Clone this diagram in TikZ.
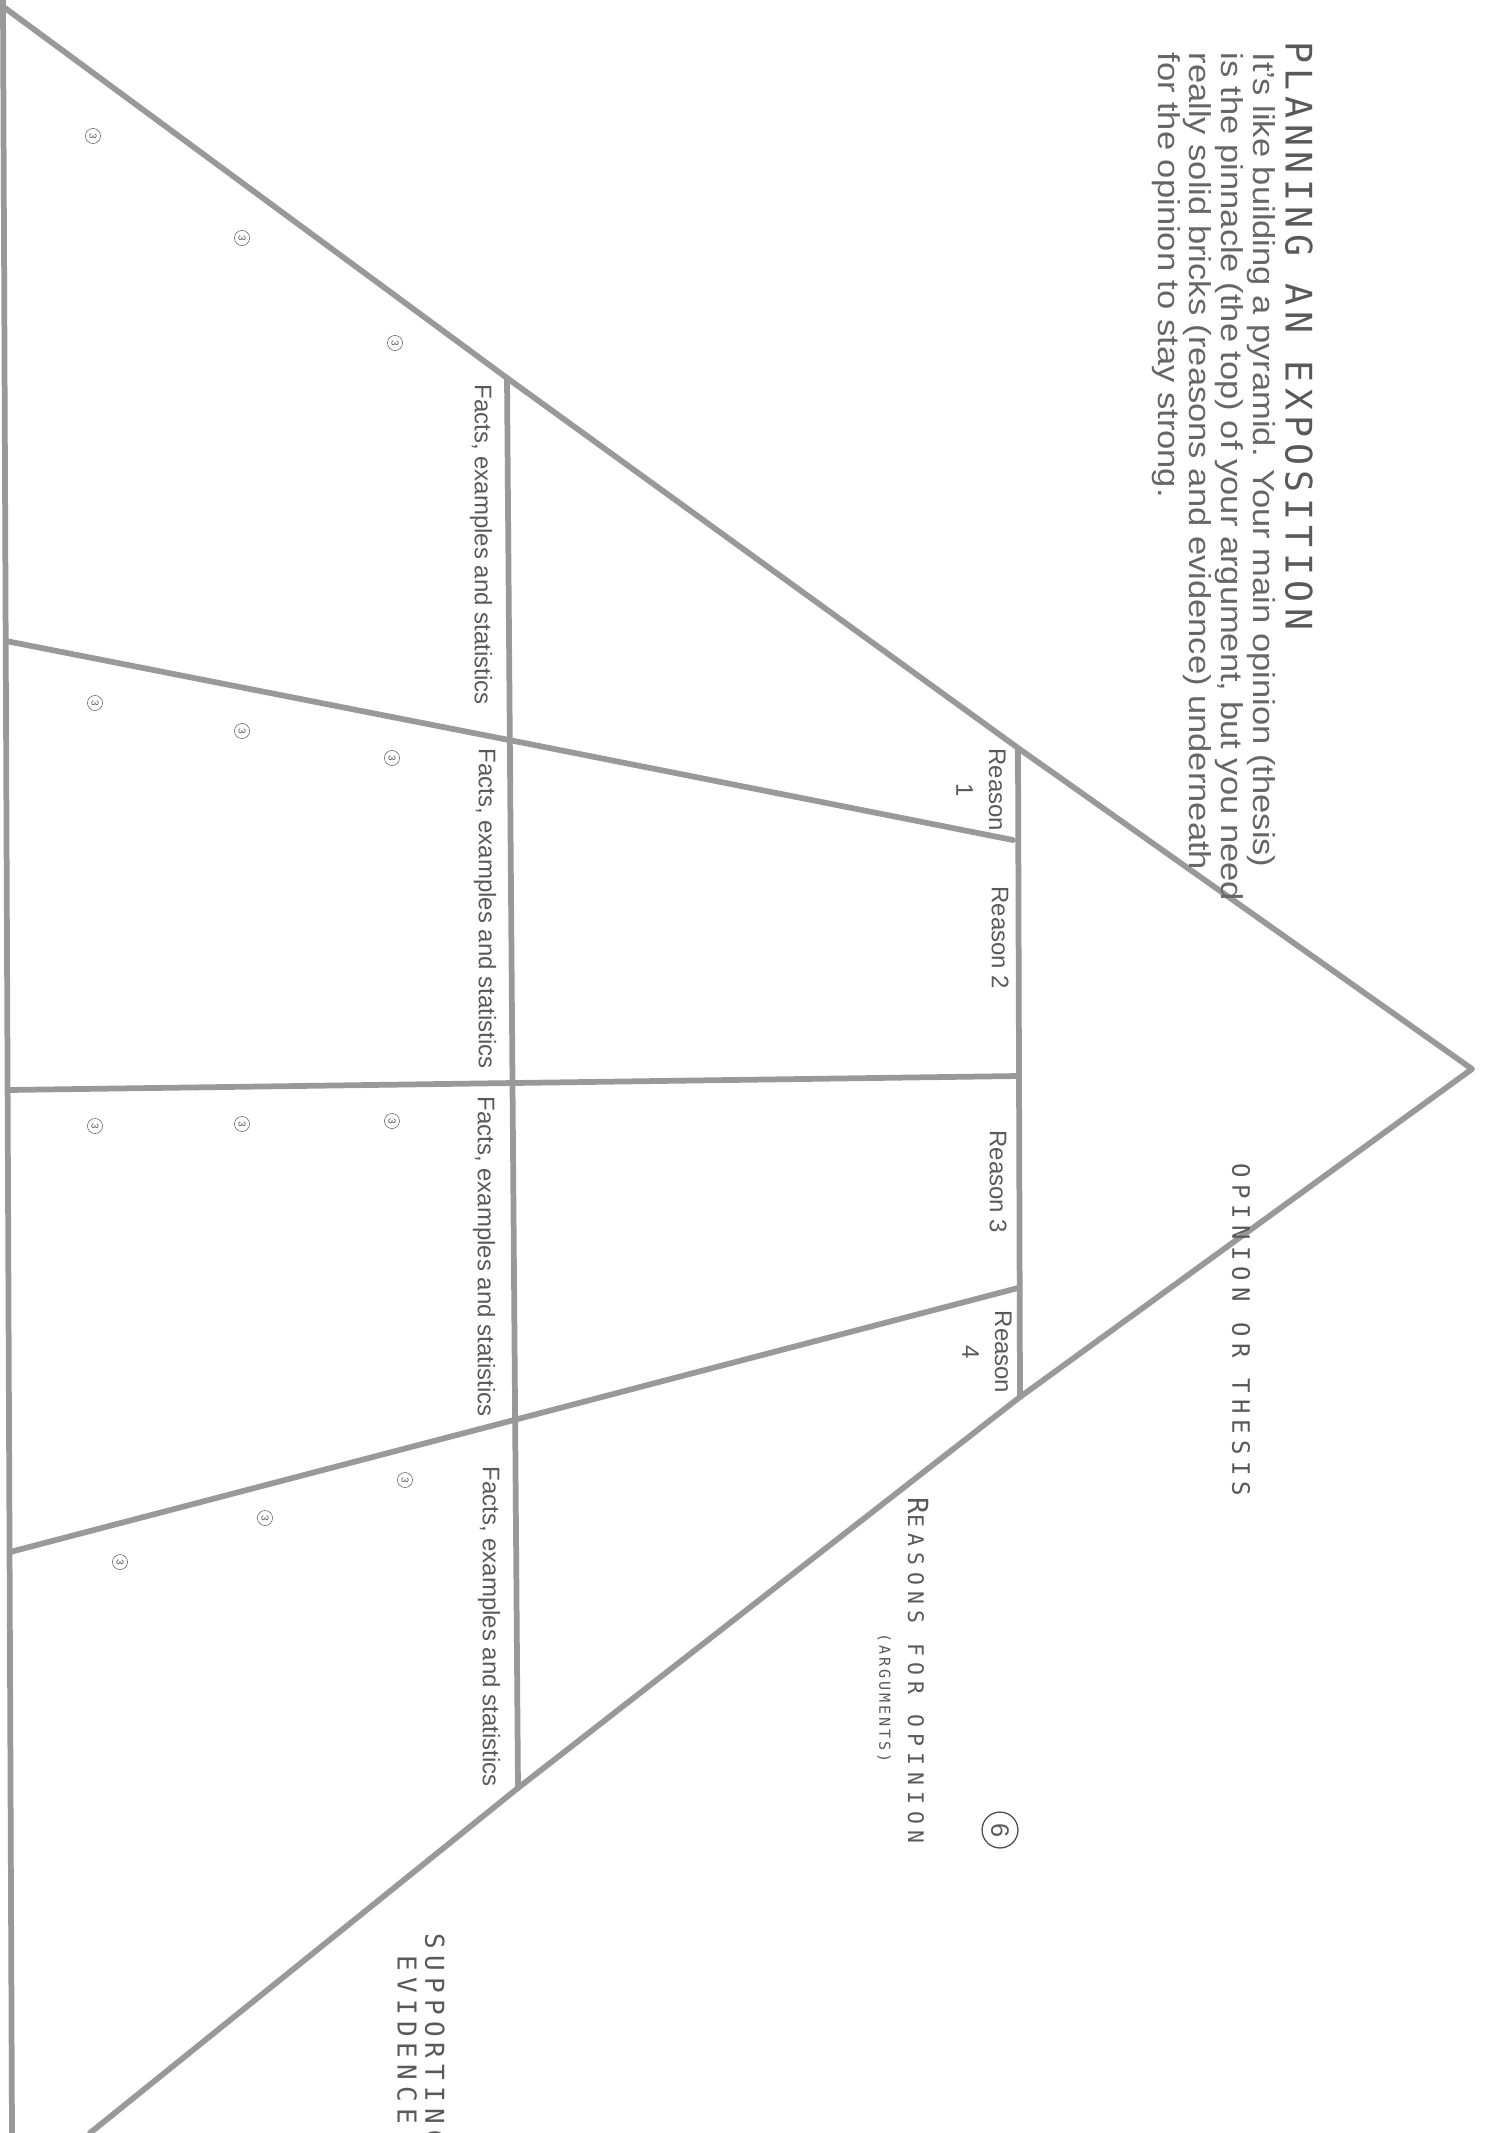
\documentclass[tikz,border=0pt]{standalone}
\usepackage{fontspec}
\setmainfont{Liberation Sans}
\newfontfamily\blockfont{DejaVu Sans Mono}
\usetikzlibrary{positioning}

\newcommand{\spaced}[2]{{\addfontfeature{LetterSpace=#1}#2}}

\begin{document}
\begin{tikzpicture}[
  x=0.13924mm, y=-0.13924mm,
  every node/.style={inner sep=0pt, text=black!65},
  edge line/.style={draw=black!40, line width=0.8mm, line join=round, line cap=round},
  sideways/.style={rotate=-90},
  reason label/.style={sideways, align=center, font=\fontsize{9.5}{13}\selectfont},
  facts label/.style={sideways, anchor=west, font=\fontsize{9.5}{11}\selectfont},
  layer label/.style={sideways, anchor=west},
  dot3/.style={circle, draw=black!55, line width=0.25pt, minimum size=2.1mm,
    sideways, font=\fontsize{4}{4}\selectfont}
]
\useasboundingbox (0,0) rectangle (1487,2133);
\clip (0,0) rectangle (1487,2133);

% outline of the pyramid
\coordinate (apex) at (1472,1069);
\coordinate (rtop) at (1018,748);
\coordinate (ftop) at (507,378);
\coordinate (tl)   at (5,8);
\coordinate (rbot) at (1020,1397);
\coordinate (fbot) at (518,1788);
\coordinate (bl)   at (90,2133);
\coordinate (b0)   at (3,0);
\coordinate (b1)   at (12,2133);

\draw[edge line] (tl) -- (ftop) -- (rtop) -- (apex) -- (rbot)
  -- (fbot) -- (bl);
\draw[edge line] (b0) -- (b1);

% the two rows of bricks
\draw[edge line] (rtop) -- (rbot);
\draw[edge line] (ftop) -- (fbot);

% dividers between the bricks
\coordinate (r1) at (1013,840);  \coordinate (f1) at (509,740);  \coordinate (e1) at (6,641);
\coordinate (r2) at (1018,1076); \coordinate (f2) at (514,1083); \coordinate (e2) at (8,1090);
\coordinate (r3) at (1018,1288); \coordinate (f3) at (514,1420); \coordinate (e3) at (10,1552);
\foreach \i in {1,2,3}{
  \draw[edge line] (r\i) -- (f\i) -- (e\i);
}

% heading and introduction
\node[sideways, anchor=west, font=\blockfont\fontsize{14.5}{15}\selectfont]
  (title) at (1299,41) {\spaced{15}{PLANNING AN EXPOSITION}};
\node[sideways, anchor=north west, align=left, text=black!60,
  font=\addfontfeature{FakeStretch=1.14}\fontsize{12}{12.6}\selectfont]
  (intro) at (1276,52)
  {It's like building a pyramid. Your main opinion (thesis)\\
   is the pinnacle (the top) of your argument, but you need\\
   really solid bricks (reasons and evidence) underneath\\
   for the opinion to stay strong.};

% labels of the layers
\node[layer label, font=\blockfont\fontsize{9.5}{10}\selectfont]
  (thesis) at (1241,1163) {\spaced{26}{OPINION OR THESIS}};
\node[layer label, font=\blockfont] (reasons) at (918,1497)
  {\spaced{30}{{\fontsize{11}{11}\selectfont R}\fontsize{8.5}{9}\selectfont EASONS FOR OPINION}};
\node[sideways, anchor=north, font=\blockfont\fontsize{6}{7}\selectfont]
  (args) at ([xshift=-2.2mm, yshift=-3.8mm]reasons.south) {\spaced{19}{(ARGUMENTS)}};
\node[layer label, align=center, font=\blockfont\fontsize{10.3}{11}\selectfont]
  (support) at (421,1933) {\spaced{24}{SUPPORTING}\\\spaced{24}{EVIDENCE}};

% page number
\node[circle, draw=black!70, line width=0.5pt, minimum size=5mm, sideways,
  font=\fontsize{10}{10}\selectfont] (page) at (1000,1830) {6};

% reasons
\node[reason label] (reason1) at (981,790)  {Reason\\1};
\node[reason label] (reason2) at (1000,938) {Reason 2};
\node[reason label] (reason3) at (998,1182) {Reason 3};
\node[reason label] (reason4) at (987,1352) {Reason\\4};

% facts under each reason
\node[facts label] (facts1) at (481,384)  {Facts, examples and statistics};
\node[facts label] (facts2) at (485,748)  {Facts, examples and statistics};
\node[facts label] (facts3) at (484,1096) {Facts, examples and statistics};
\node[facts label] (facts4) at (489,1466) {Facts, examples and statistics};

% small numbered points
\foreach \x/\y [count=\n] in {93/136,242/238,395/343,
                              95/703,242/731,392/758,
                              95/1126,242/1124,392/1121,
                              120/1562,265/1518,405/1480}{
  \node[dot3] (pt\n) at (\x,\y) {3};
}

\end{tikzpicture}
\end{document}
